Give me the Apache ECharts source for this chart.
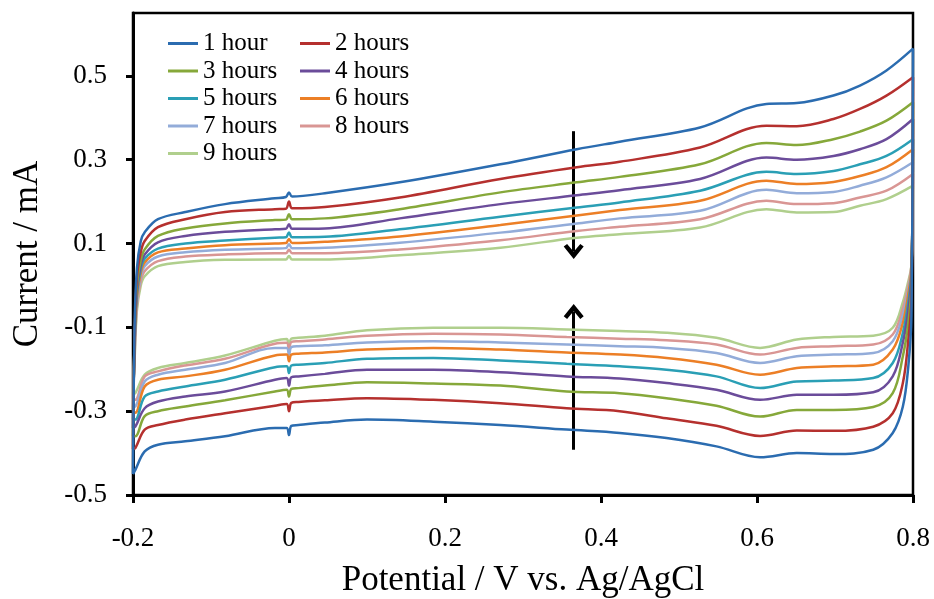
<!DOCTYPE html>
<html>
<head>
<meta charset="UTF-8">
<title>CV curves</title>
<script src="https://cdn.jsdelivr.net/npm/echarts@6/dist/echarts.min.js"></script>
<style>
  html, body { margin: 0; padding: 0; background: #fff; }
</style>
</head>
<body>
<div id="main" style="width: 934px;height:599px;"></div>
<script type="text/javascript">
// forward scan (-0.2 -> 0.8 V) and reverse scan (0.8 -> -0.2 V)
var xUp = [-0.2, -0.198, -0.195, -0.19, -0.185, -0.168, -0.133, -0.082, -0.018, -0.004, 0, 0.004, 0.046, 0.142, 0.271, 0.369, 0.424, 0.527, 0.612, 0.651, 0.698, 0.732, 0.766, 0.8];
var xDown = [0.8, 0.798, 0.794, 0.787, 0.774, 0.749, 0.698, 0.651, 0.604, 0.548, 0.484, 0.424, 0.356, 0.271, 0.185, 0.1, 0.046, 0.012, 0.003, 0, -0.003, -0.018, -0.082, -0.133, -0.168, -0.185, -0.197, -0.2];

var up1 = [-0.45, -0.1, 0.04, 0.106, 0.127, 0.158, 0.175, 0.194, 0.208, 0.211, 0.222, 0.212, 0.22, 0.246, 0.289, 0.325, 0.343, 0.377, 0.433, 0.435, 0.453, 0.477, 0.513, 0.565];
var up2 = [-0.39, -0.12, 0.02, 0.08, 0.106, 0.139, 0.158, 0.175, 0.182, 0.183, 0.2, 0.184, 0.187, 0.21, 0.254, 0.282, 0.295, 0.329, 0.381, 0.38, 0.397, 0.421, 0.453, 0.497];
var up3 = [-0.36, -0.13, 0.0, 0.06, 0.086, 0.118, 0.136, 0.148, 0.156, 0.157, 0.17, 0.158, 0.16, 0.182, 0.222, 0.246, 0.259, 0.289, 0.34, 0.335, 0.349, 0.367, 0.393, 0.437];
var up4 = [-0.34, -0.14, -0.01, 0.05, 0.074, 0.103, 0.118, 0.128, 0.134, 0.135, 0.146, 0.135, 0.136, 0.16, 0.194, 0.215, 0.227, 0.254, 0.305, 0.3, 0.309, 0.325, 0.349, 0.397];
var up5 = [-0.32, -0.14, -0.02, 0.04, 0.064, 0.088, 0.1, 0.107, 0.114, 0.115, 0.126, 0.115, 0.116, 0.134, 0.164, 0.186, 0.198, 0.226, 0.271, 0.266, 0.273, 0.289, 0.309, 0.349];
var up6 = [-0.30, -0.15, -0.03, 0.03, 0.055, 0.079, 0.088, 0.096, 0.1, 0.101, 0.111, 0.101, 0.104, 0.117, 0.144, 0.167, 0.18, 0.202, 0.25, 0.242, 0.247, 0.261, 0.282, 0.325];
var up7 = [-0.29, -0.16, -0.04, 0.02, 0.046, 0.069, 0.079, 0.085, 0.088, 0.089, 0.098, 0.089, 0.09, 0.102, 0.126, 0.148, 0.16, 0.178, 0.228, 0.22, 0.223, 0.238, 0.258, 0.294];
var up8 = [-0.27, -0.17, -0.05, 0.01, 0.034, 0.058, 0.069, 0.074, 0.077, 0.077, 0.085, 0.077, 0.077, 0.086, 0.108, 0.13, 0.14, 0.158, 0.202, 0.194, 0.196, 0.21, 0.226, 0.266];
var up9 = [-0.26, -0.18, -0.06, 0.0, 0.022, 0.046, 0.056, 0.061, 0.062, 0.062, 0.07, 0.062, 0.062, 0.072, 0.09, 0.114, 0.122, 0.138, 0.182, 0.174, 0.175, 0.19, 0.206, 0.238];

var dn1 = [0.565, -0.073, -0.193, -0.289, -0.352, -0.392, -0.402, -0.4, -0.41, -0.384, -0.364, -0.352, -0.344, -0.333, -0.325, -0.32, -0.327, -0.333, -0.335, -0.357, -0.34, -0.34, -0.36, -0.372, -0.38, -0.396, -0.44, -0.45];
var dn2 = [0.497, -0.033, -0.13, -0.233, -0.305, -0.337, -0.347, -0.346, -0.359, -0.335, -0.317, -0.3, -0.293, -0.281, -0.273, -0.269, -0.274, -0.278, -0.28, -0.3, -0.283, -0.287, -0.305, -0.32, -0.333, -0.344, -0.388, -0.39];
var dn3 = [0.437, 0.0, -0.089, -0.169, -0.257, -0.29, -0.297, -0.297, -0.313, -0.287, -0.269, -0.257, -0.253, -0.239, -0.234, -0.231, -0.239, -0.245, -0.247, -0.265, -0.249, -0.253, -0.274, -0.289, -0.3, -0.312, -0.36, -0.36];
var dn4 = [0.397, 0.02, -0.06, -0.136, -0.217, -0.255, -0.261, -0.261, -0.273, -0.249, -0.233, -0.222, -0.217, -0.207, -0.201, -0.201, -0.211, -0.217, -0.219, -0.239, -0.221, -0.225, -0.253, -0.265, -0.277, -0.293, -0.337, -0.34];
var dn5 = [0.349, 0.03, -0.04, -0.113, -0.185, -0.221, -0.227, -0.229, -0.245, -0.217, -0.201, -0.193, -0.187, -0.179, -0.173, -0.175, -0.185, -0.189, -0.191, -0.209, -0.193, -0.195, -0.225, -0.241, -0.253, -0.265, -0.32, -0.32];
var dn6 = [0.325, 0.04, -0.02, -0.089, -0.153, -0.189, -0.193, -0.197, -0.213, -0.189, -0.173, -0.165, -0.16, -0.153, -0.149, -0.153, -0.16, -0.163, -0.165, -0.181, -0.165, -0.167, -0.201, -0.217, -0.225, -0.241, -0.304, -0.30];
var dn7 = [0.294, 0.04, -0.01, -0.07, -0.133, -0.161, -0.165, -0.169, -0.185, -0.161, -0.149, -0.145, -0.141, -0.136, -0.133, -0.136, -0.143, -0.145, -0.147, -0.165, -0.149, -0.149, -0.185, -0.201, -0.213, -0.229, -0.289, -0.29];
var dn8 = [0.266, 0.05, 0.0, -0.055, -0.117, -0.141, -0.145, -0.149, -0.165, -0.141, -0.131, -0.127, -0.123, -0.117, -0.115, -0.12, -0.129, -0.133, -0.135, -0.153, -0.137, -0.139, -0.175, -0.191, -0.205, -0.217, -0.273, -0.27];
var dn9 = [0.238, 0.05, 0.01, -0.04, -0.101, -0.12, -0.123, -0.129, -0.149, -0.125, -0.113, -0.109, -0.105, -0.101, -0.101, -0.107, -0.12, -0.125, -0.127, -0.141, -0.128, -0.132, -0.167, -0.185, -0.197, -0.213, -0.257, -0.26];

var names = ['1 hour', '2 hours', '3 hours', '4 hours', '5 hours', '6 hours', '7 hours', '8 hours', '9 hours'];
var colors = ['#2b6cb0', '#b5302e', '#86a83a', '#6b4c9a', '#2a9fb5', '#ec7f26', '#93acd9', '#d99694', '#b0cf8d'];
var yTicks = [-0.5, -0.3, -0.1, 0.1, 0.3, 0.5];

// arrows: x position, and [from, to] current values
var arrowX = 0.365;
var arrowDown = [0.368, 0.081];
var arrowUp = [-0.392, -0.062];

var ups = [up1, up2, up3, up4, up5, up6, up7, up8, up9];
var dns = [dn1, dn2, dn3, dn4, dn5, dn6, dn7, dn8, dn9];
var serif = "'Liberation Serif', 'Times New Roman', serif";
var chevron = 'path://M5,0 L10,6.6 L8.3,8 L5,3.8 L1.7,8 L0,6.6 Z';

var series = names.map(function (n, i) {
	var pts = xUp.map(function (x, k) { return [x, ups[i][k]]; })
		.concat(xDown.map(function (x, k) { return [x, dns[i][k]]; }));
	var s = {
		name: n,
		type: 'line',
		data: pts,
		showSymbol: false,
		smooth: 0.35,
		z: 20 - i,
		lineStyle: { width: 2.5, color: colors[i] },
		itemStyle: { color: colors[i] }
	};
	if (i === 0) {
		s.markLine = {
			silent: true,
			symbol: ['none', chevron],
			symbolSize: [20, 15],
			label: { show: false },
			lineStyle: { color: '#000', width: 3, type: 'solid' },
			data: [
				[{ coord: [arrowX, arrowDown[0]] }, { coord: [arrowX, arrowDown[1]] }],
				[{ coord: [arrowX, arrowUp[0]] }, { coord: [arrowX, arrowUp[1]] }]
			]
		};
	}
	return s;
});

var legendBase = {
	orient: 'vertical',
	icon: 'rect',
	itemWidth: 30,
	itemHeight: 3,
	itemGap: 2.5,
	padding: 0,
	selectedMode: false,
	textStyle: { fontFamily: serif, fontSize: 25, color: '#000', lineHeight: 25 }
};

var myChart = echarts.init(document.getElementById('main'));
var option = {
	animation: false,
	backgroundColor: '#fff',
	color: colors,
	grid: { left: 133, right: 21, top: 13, bottom: 104, show: true, borderColor: '#000', borderWidth: 2.5, outerBoundsMode: 'none' },
	legend: [
		Object.assign({}, legendBase, { left: 168, top: 31, data: [names[0], names[2], names[4], names[6], names[8]] }),
		Object.assign({}, legendBase, { left: 300, top: 31, data: [names[1], names[3], names[5], names[7]] })
	],
	xAxis: {
		type: 'value',
		min: -0.2,
		max: 0.8,
		interval: 0.2,
		name: 'Potential / V vs. Ag/AgCl',
		nameLocation: 'middle',
		nameGap: 68,
		nameTextStyle: { fontFamily: serif, fontSize: 35, color: '#000' },
		axisLine: { onZero: false, lineStyle: { color: '#000', width: 3 } },
		axisTick: { inside: false, length: 8, lineStyle: { color: '#000', width: 3 } },
		axisLabel: {
			margin: 30, fontFamily: serif, fontSize: 27, color: '#000',
			formatter: function (v) { return Math.abs(v) < 1e-9 ? '0' : (+v.toFixed(1)).toString(); }
		},
		splitLine: { show: false }
	},
	yAxis: {
		type: 'value',
		min: -0.5,
		max: 0.65,
		name: 'Current / mA',
		nameLocation: 'middle',
		nameGap: 88,
		nameTextStyle: { fontFamily: serif, fontSize: 35, color: '#000' },
		axisLine: { onZero: false, lineStyle: { color: '#000', width: 3 } },
		axisTick: { length: 7, customValues: yTicks, lineStyle: { color: '#000', width: 3 } },
		axisLabel: {
			margin: 26, fontFamily: serif, fontSize: 27, color: '#000', customValues: yTicks,
			formatter: function (v) { return (+v.toFixed(1)).toString(); }
		},
		splitLine: { show: false }
	},
	series: series
};
myChart.setOption(option);
</script>
</body>
</html>
